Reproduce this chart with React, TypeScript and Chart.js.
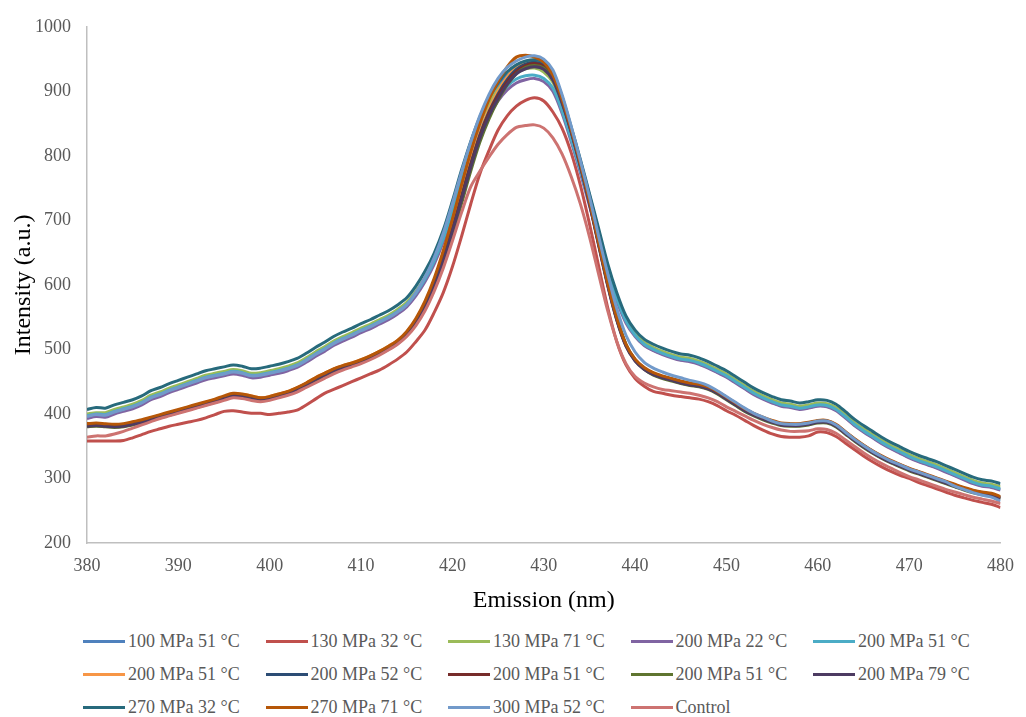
import { useEffect, useRef } from "react";
import { Chart, registerables } from "chart.js";

Chart.register(...registerables);

const FONT = '"Liberation Serif", "Times New Roman", serif';

// Emission wavelengths (nm), 1 nm steps from 380 to 480
const WAVELENGTHS = Array.from({ length: 101 }, (_, i) => 380 + i);

const X_MIN = 380;
const X_MAX = 480;
const X_STEP = 10;
const Y_MIN = 200;
const Y_MAX = 1000;
const Y_STEP = 100;

// Intensity (a.u.) per series, one value per wavelength
const P100_T51 = [
  395, 398, 397, 402, 406, 410, 416, 424, 429, 435,
  440, 445, 450, 455, 458, 461, 464, 462, 458, 459,
  462, 465, 469, 474, 482, 491, 499, 508, 515, 521,
  528, 534, 541, 548, 557, 568, 586, 609, 638, 675,
  720, 768, 813, 852, 883, 907, 924, 935, 942, 945,
  940, 925, 888, 842, 792, 739, 684, 629, 584, 547,
  523, 507, 499, 493, 488, 484, 482, 478, 472, 465,
  458, 449, 440, 431, 424, 418, 413, 411, 408, 410,
  413, 412, 406, 395, 383, 373, 364, 355, 347, 340,
  333, 327, 322, 317, 311, 305, 299, 293, 289, 287, 283,
];
const P130_T32 = [
  358, 358, 358, 358, 359, 363, 368, 373, 377, 381,
  384, 387, 390, 394, 399, 404, 405, 403, 401, 401,
  399, 401, 403, 406, 414, 423, 432, 438, 444, 450,
  456, 462, 468, 476, 485, 496, 512, 530, 557, 588,
  628, 675, 725, 772, 808, 840, 862, 877, 886, 890,
  885, 868, 843, 805, 755, 695, 630, 565, 512, 476,
  455, 443, 435, 432, 429, 427, 425, 423, 419, 413,
  405, 398, 390, 382, 375, 369, 365, 364, 364, 366,
  372, 371, 365, 355, 345, 335, 326, 318, 311, 305,
  300, 294, 289, 284, 279, 274, 270, 266, 263, 260, 255,
];
const P130_T71 = [
  400, 402, 402, 407, 411, 415, 421, 429, 434, 440,
  445, 450, 455, 460, 463, 466, 469, 467, 463, 464,
  467, 470, 474, 479, 487, 496, 504, 513, 520, 526,
  533, 539, 546, 553, 562, 573, 590, 612, 640, 676,
  721, 768, 812, 850, 880, 903, 920, 930, 935, 936,
  930, 914, 878, 832, 783, 731, 678, 624, 580, 545,
  524, 511, 503, 497, 492, 488, 486, 482, 476, 469,
  462, 453, 444, 435, 428, 422, 417, 415, 412, 414,
  417, 416, 410, 399, 387, 377, 368, 359, 351, 344,
  337, 331, 326, 321, 315, 309, 303, 297, 293, 291, 287,
];
const P200_T22 = [
  393, 396, 395, 400, 404, 408, 414, 422, 427, 433,
  438, 443, 448, 453, 456, 459, 462, 460, 456, 457,
  460, 463, 467, 472, 480, 489, 497, 506, 513, 519,
  526, 532, 539, 546, 555, 566, 583, 605, 632, 667,
  710, 755, 797, 833, 862, 885, 902, 913, 918, 920,
  915, 900, 866, 822, 774, 723, 671, 618, 575, 541,
  520, 506, 498, 492, 487, 483, 481, 477, 471, 464,
  457, 448, 439, 430, 423, 417, 412, 410, 407, 409,
  412, 411, 405, 394, 382, 372, 363, 354, 346, 339,
  332, 326, 321, 316, 310, 304, 298, 292, 288, 286, 282,
];
const P200_T51_A = [
  397, 400, 399, 404, 408, 412, 418, 426, 431, 437,
  442, 447, 452, 457, 460, 463, 466, 464, 460, 461,
  464, 467, 471, 476, 484, 493, 501, 510, 517, 523,
  530, 536, 543, 550, 559, 570, 587, 609, 637, 672,
  716, 762, 804, 840, 868, 891, 908, 919, 924, 925,
  920, 905, 870, 826, 778, 727, 675, 622, 579, 544,
  522, 508, 500, 494, 489, 485, 483, 479, 473, 466,
  459, 450, 441, 432, 425, 419, 414, 412, 409, 411,
  414, 413, 407, 396, 384, 374, 365, 356, 348, 341,
  334, 328, 323, 318, 312, 306, 300, 294, 290, 288, 284,
];
const P200_T51_B = [
  384, 385, 384, 383, 384, 387, 390, 394, 398, 402,
  406, 410, 414, 418, 422, 427, 431, 430, 428, 425,
  427, 431, 435, 441, 448, 456, 463, 470, 475, 479,
  484, 490, 497, 505, 514, 527, 546, 572, 605, 646,
  692, 742, 792, 836, 872, 900, 922, 938, 946, 948,
  942, 923, 886, 840, 787, 729, 665, 602, 548, 507,
  484, 471, 463, 458, 454, 450, 447, 445, 441, 434,
  425, 416, 407, 400, 394, 389, 385, 384, 384, 386,
  389, 389, 383, 372, 361, 351, 342, 334, 327, 321,
  315, 310, 305, 300, 295, 290, 285, 281, 278, 276, 271,
];
const P200_T52 = [
  382, 383, 382, 381, 382, 385, 388, 392, 396, 400,
  404, 408, 412, 416, 420, 425, 429, 428, 426, 423,
  425, 429, 433, 439, 446, 454, 461, 468, 473, 477,
  482, 488, 495, 502, 511, 524, 542, 567, 600, 641,
  687, 737, 787, 832, 868, 896, 918, 934, 942, 945,
  940, 922, 886, 840, 787, 729, 665, 602, 548, 507,
  484, 471, 463, 458, 454, 450, 447, 445, 441, 434,
  425, 416, 407, 400, 394, 389, 385, 384, 384, 386,
  389, 389, 383, 372, 361, 351, 342, 334, 327, 321,
  315, 310, 305, 300, 295, 290, 285, 281, 278, 276, 271,
];
const P200_T51_C = [
  383, 384, 383, 382, 383, 386, 389, 393, 397, 401,
  405, 409, 413, 417, 421, 426, 430, 429, 427, 424,
  426, 430, 434, 440, 447, 455, 462, 469, 474, 478,
  483, 489, 496, 503, 512, 525, 543, 568, 600, 640,
  685, 735, 785, 830, 866, 893, 915, 931, 940, 943,
  938, 920, 884, 838, 785, 727, 663, 600, 546, 506,
  483, 470, 462, 457, 453, 449, 446, 444, 440, 433,
  424, 415, 406, 399, 393, 388, 384, 383, 383, 385,
  388, 388, 382, 371, 360, 350, 341, 333, 326, 320,
  314, 309, 304, 299, 294, 289, 284, 280, 277, 275, 270,
];
const P200_T51_D = [
  380, 381, 380, 379, 380, 383, 386, 390, 394, 398,
  402, 406, 410, 414, 418, 423, 427, 426, 424, 421,
  423, 427, 431, 437, 444, 452, 459, 466, 471, 475,
  480, 486, 493, 500, 509, 522, 539, 563, 594, 633,
  677, 726, 776, 821, 857, 886, 910, 927, 937, 940,
  936, 920, 886, 842, 790, 732, 668, 605, 550, 508,
  483, 469, 460, 455, 451, 447, 444, 442, 438, 431,
  422, 413, 404, 397, 391, 386, 382, 381, 381, 383,
  386, 386, 380, 369, 358, 348, 339, 331, 324, 318,
  312, 307, 302, 297, 292, 287, 282, 278, 275, 273, 268,
];
const P200_T79 = [
  381, 382, 381, 380, 381, 384, 387, 391, 395, 399,
  403, 407, 411, 415, 419, 424, 428, 427, 425, 422,
  424, 428, 432, 438, 445, 453, 460, 467, 472, 476,
  481, 487, 494, 501, 510, 523, 541, 566, 598, 638,
  683, 732, 782, 827, 862, 889, 911, 927, 935, 938,
  934, 917, 882, 837, 784, 726, 662, 599, 545, 505,
  482, 469, 461, 456, 452, 448, 445, 443, 439, 432,
  423, 414, 405, 398, 392, 387, 383, 382, 382, 384,
  387, 387, 381, 370, 359, 349, 340, 332, 325, 319,
  313, 308, 303, 298, 293, 288, 283, 279, 276, 274, 269,
];
const P270_T32 = [
  407, 410, 409, 414, 418, 422, 428, 436, 441, 447,
  452, 457, 462, 467, 470, 473, 476, 474, 470, 471,
  474, 477, 481, 486, 494, 503, 511, 520, 527, 533,
  540, 546, 553, 560, 569, 580, 598, 621, 649, 685,
  730, 778, 822, 860, 890, 913, 930, 941, 947, 949,
  945, 930, 892, 845, 795, 742, 688, 633, 588, 552,
  530, 516, 508, 502, 497, 493, 491, 487, 481, 474,
  467, 458, 449, 440, 433, 427, 422, 420, 417, 419,
  422, 421, 415, 404, 392, 382, 373, 364, 356, 349,
  342, 336, 331, 326, 320, 314, 308, 302, 298, 296, 292,
];
const P270_T71 = [
  385, 386, 385, 384, 385, 388, 391, 395, 399, 403,
  407, 411, 415, 419, 423, 428, 432, 431, 428, 425,
  427, 431, 435, 441, 448, 456, 463, 470, 475, 479,
  484, 490, 497, 505, 514, 528, 548, 575, 610, 653,
  702, 755, 806, 850, 887, 915, 938, 953, 956, 953,
  945, 925, 888, 841, 788, 730, 666, 603, 549, 508,
  485, 472, 464, 459, 455, 451, 448, 446, 442, 435,
  426, 417, 408, 401, 395, 390, 386, 385, 385, 387,
  390, 390, 384, 373, 362, 352, 343, 335, 328, 322,
  316, 311, 306, 301, 296, 291, 286, 282, 279, 277, 272,
];
const P300_T52 = [
  396, 399, 398, 403, 407, 411, 417, 425, 430, 436,
  441, 446, 451, 456, 459, 462, 465, 463, 459, 460,
  463, 466, 470, 475, 483, 492, 500, 509, 516, 522,
  529, 535, 542, 549, 558, 569, 588, 612, 642, 680,
  726, 775, 821, 862, 895, 920, 937, 947, 953, 955,
  950, 933, 895, 846, 793, 737, 676, 617, 563, 522,
  496, 480, 471, 465, 460, 456, 452, 449, 444, 436,
  427, 418, 409, 401, 395, 389, 385, 384, 384, 386,
  389, 389, 383, 372, 361, 351, 342, 334, 327, 321,
  315, 310, 305, 300, 295, 288, 283, 278, 274, 271, 265,
];
const CONTROL = [
  364, 366, 366, 369, 373, 378, 383, 388, 393, 397,
  401, 405, 409, 413, 417, 421, 425, 424, 421, 419,
  421, 425, 429, 434, 441, 448, 455, 462, 468, 473,
  478, 484, 491, 499, 508, 520, 537, 560, 590, 626,
  668, 712, 752, 776, 798, 818, 833, 844, 847, 848,
  843, 828, 803, 768, 726, 675, 617, 560, 512, 478,
  458, 448, 442, 438, 436, 434, 432, 429, 425, 419,
  411, 404, 397, 390, 384, 379, 375, 373, 373, 374,
  377, 376, 370, 360, 350, 340, 331, 323, 316, 309,
  303, 298, 293, 288, 283, 279, 275, 271, 268, 265, 261,
];

const SERIES_LABELS = [
  "100 MPa 51 °C",
  "130 MPa 32 °C",
  "130 MPa 71 °C",
  "200 MPa 22 °C",
  "200 MPa 51 °C",
  "200 MPa 51 °C",
  "200 MPa 52 °C",
  "200 MPa 51 °C",
  "200 MPa 51 °C",
  "200 MPa 79 °C",
  "270 MPa 32 °C",
  "270 MPa 71 °C",
  "300 MPa 52 °C",
  "Control",
];

const SERIES_VALUES = [
  P100_T51,
  P130_T32,
  P130_T71,
  P200_T22,
  P200_T51_A,
  P200_T51_B,
  P200_T52,
  P200_T51_C,
  P200_T51_D,
  P200_T79,
  P270_T32,
  P270_T71,
  P300_T52,
  CONTROL,
];

const SERIES_COLORS = [
  "#4F81BD",
  "#C0504D",
  "#9BBB59",
  "#8064A2",
  "#4BACC6",
  "#F79646",
  "#2C4D75",
  "#772C2A",
  "#5F7530",
  "#4D3B62",
  "#276A7C",
  "#B65708",
  "#729ACA",
  "#CD7371",
];

const WIDTH = 1026;
const CANVAS_HEIGHT = 620;

const LEGEND_COLS = 5;
const LEGEND_LEFT = 83;
const LEGEND_COL_W = 182.5;
const LEGEND_TOP = 641;
const LEGEND_ROW_H = 33;

export default function App() {
  const canvasRef = useRef<HTMLCanvasElement | null>(null);

  useEffect(() => {
    const canvas = canvasRef.current;
    if (!canvas) return;
    const n = SERIES_LABELS.length;
    const chart = new Chart(canvas, {
      type: "line",
      data: {
        datasets: SERIES_LABELS.map((label, i) => ({
          label,
          data: WAVELENGTHS.map((x, j) => ({ x, y: SERIES_VALUES[i][j] })),
          borderColor: SERIES_COLORS[i],
          backgroundColor: SERIES_COLORS[i],
          borderWidth: 3,
          pointRadius: 0,
          tension: 0.3,
          fill: false,
          // later series are painted over earlier ones
          order: n - i,
        })),
      },
      options: {
        responsive: false,
        animation: false,
        layout: { padding: { top: 20, right: 19, left: 0, bottom: 0 } },
        plugins: {
          legend: { display: false },
          tooltip: { enabled: false },
        },
        scales: {
          x: {
            type: "linear",
            min: X_MIN,
            max: X_MAX,
            ticks: {
              stepSize: X_STEP,
              color: "#595959",
              font: { family: FONT, size: 18 },
              padding: 12,
              maxRotation: 0,
              callback: (v: any) => String(v),
            },
            grid: { display: false, drawTicks: false },
            border: { display: true, color: "#bfbfbf", width: 1.5 },
            title: {
              display: true,
              text: "Emission (nm)",
              color: "#000000",
              font: { family: FONT, size: 24 },
              padding: { top: 0, bottom: 5 },
            },
            afterFit: (scale: any) => {
              scale.height = 77;
            },
          },
          y: {
            type: "linear",
            min: Y_MIN,
            max: Y_MAX,
            ticks: {
              stepSize: Y_STEP,
              color: "#595959",
              font: { family: FONT, size: 18 },
              padding: 16,
              callback: (v: any) => String(v),
            },
            grid: { display: false, drawTicks: false },
            border: { display: true, color: "#bfbfbf", width: 1.5 },
            title: {
              display: true,
              text: "Intensity (a.u.)",
              color: "#000000",
              font: { family: FONT, size: 24 },
              padding: { top: 9, bottom: 0 },
            },
            afterFit: (scale: any) => {
              scale.width = 87;
            },
          },
        },
      },
    });
    return () => chart.destroy();
  }, []);

  return (
    <div
      style={{
        position: "absolute",
        left: 0,
        top: 0,
        width: WIDTH,
        height: 717,
        background: "#ffffff",
        fontFamily: FONT,
      }}
    >
      <canvas
        ref={canvasRef}
        width={WIDTH}
        height={CANVAS_HEIGHT}
        style={{ display: "block", width: WIDTH, height: CANVAS_HEIGHT }}
      />
      {SERIES_LABELS.map((label, i) => {
        const col = i % LEGEND_COLS;
        const row = Math.floor(i / LEGEND_COLS);
        return (
          <div
            key={i}
            style={{
              position: "absolute",
              left: LEGEND_LEFT + col * LEGEND_COL_W,
              top: LEGEND_TOP + row * LEGEND_ROW_H - 12,
              height: 24,
              display: "flex",
              alignItems: "center",
              whiteSpace: "nowrap",
            }}
          >
            <span
              style={{
                display: "inline-block",
                width: 42,
                height: 3,
                background: SERIES_COLORS[i],
                marginRight: 3,
              }}
            />
            <span style={{ fontSize: 18, color: "#595959", lineHeight: "24px" }}>{label}</span>
          </div>
        );
      })}
    </div>
  );
}
